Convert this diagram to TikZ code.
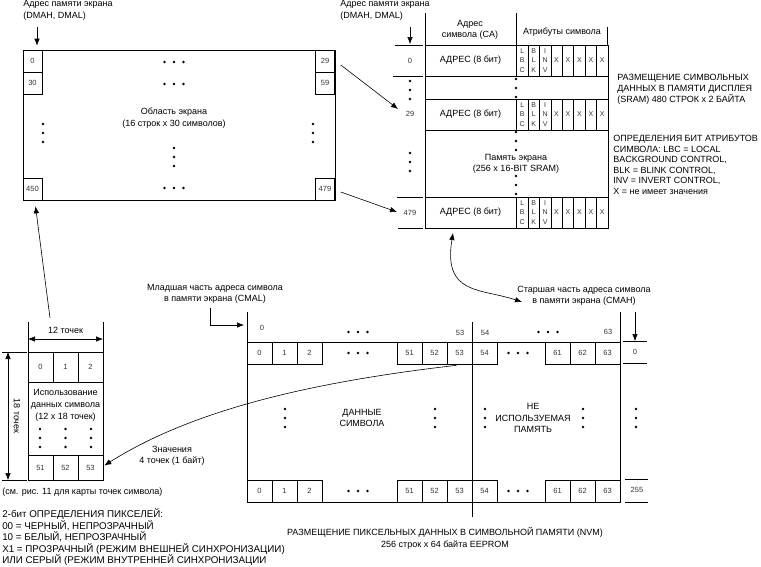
\documentclass[tikz,border=0pt]{standalone}
\usepackage{fontspec}
\setmainfont{Liberation Sans}
\usetikzlibrary{arrows.meta}

\tikzset{
	txt/.style={font=\fontsize{9}{11.5}\selectfont, align=center, inner sep=0pt},
	lefttxt/.style={txt, align=left, anchor=north west},
	num/.style={font=\fontsize{7.5}{9}\selectfont, text=black!80, inner sep=0pt},
	bits/.style={font=\fontsize{7}{9.5}\selectfont, text=black!80, align=center, inner sep=0pt},
	cell/.style={draw, num, minimum width=25pt, minimum height=22pt},
	scell/.style={cell, minimum width=19pt},
	hdots/.pic={\foreach \i in {-1,0,1} \fill (\i*9.5,0) circle (1.3pt);},
	vdots/.pic={\foreach \i in {-1,0,1} \fill (0,\i*9) circle (1.3pt);},
}

\begin{document}
\begin{tikzpicture}[x=1pt, y=-1pt, line width=0.6pt, >={Latex[length=7pt,width=5.5pt]}]
	\useasboundingbox (0,0) rectangle (761,566);
	% screen area
		\node[lefttxt] (scrTitle) at (23,0.5) {Адрес памяти экрана\\(DMAH, DMAL)};
		\draw (23,50) rectangle (335,200);
		\node[scell] (s0) at (32.5,61) {0};
		\node[scell] (s30) at (32.5,83) {30};
		\node[scell] (s450) at (32.5,189) {450};
		\node[scell] (s29) at (325,61) {29};
		\node[scell] (s59) at (325,83) {59};
		\node[scell] (s479) at (325,189) {479};
		\pic at (174,62) {hdots};
		\pic at (174,84) {hdots};
		\pic at (174,188) {hdots};
		\pic at (43,133) {vdots};
		\pic at (313,133) {vdots};
		\pic at (174,157) {vdots};
		\node[txt] (scrText) at (174,118) {Область экрана\\(16 строк x 30 символов)};
		\coordinate (scrIn) at (37,27);
		\draw[->, shorten >=4pt] (scrIn) -- (scrIn |- s0.north);
	% screen memory (SRAM)
		\node[lefttxt] (sramTitle) at (340,0.5) {Адрес памяти экрана\\(DMAH, DMAL)};
		\node[txt] (caHead) at (470,30) {Адрес\\символа (CA)};
		\node[txt] (attrHead) at (562,32) {Атрибуты символа};
		\draw (425,13) -- (425,45);
		\draw (516.5,13) -- (516.5,45);
		\draw (607.5,27) -- (607.5,45);
		\draw (425,45) rectangle (608,228);
		\foreach \y in {76,99,130,197} \draw (425,\y) -- (608,\y);
		\foreach \y/\n in {45/0,99/29,197/479} {
			\node[txt] (adr\n) at (470.5,\y+15.5) {АДРЕС (8 бит)};
			\foreach \i in {0,...,7} \draw (516.5+\i*11.44,\y) -- ++(0,31);
			\node[bits] (lbc\n) at (522.2,\y+15.5) {L\\B\\C};
			\node[bits] (blk\n) at (533.7,\y+15.5) {B\\L\\K};
			\node[bits] (inv\n) at (545.1,\y+15.5) {I\\N\\V};
			\foreach \i in {3,...,7} \node[bits] at (522.2+\i*11.44,\y+15.5) {X};
		}
		\pic at (516,88) {vdots};
		\pic at (516,141) {vdots};
		\pic at (516,185) {vdots};
		\node[txt] (sramText) at (516,164) {Память экрана\\(256 x 16-BIT SRAM)};
		% row labels
		\node[num] (r0) at (410,61) {0};
		\node[num] (r29) at (410,114) {29};
		\node[num] (r479) at (410,213) {479};
		\coordinate (sramIn) at (410,27);
		\draw[->] (sramIn) -- ([shift={(0,-17)}]r0.center);
		\draw (395,45) -- (423,45);
		\draw (393,76) -- (423,76);
		\draw (397,197) -- (423,197);
		\draw (398,228) -- (423,228);
		\pic at (410,90) {vdots};
		\pic at (410,162) {vdots};
		\node[lefttxt, font=\fontsize{9}{11}\selectfont] (sramNote) at (617,73.5) {РАЗМЕЩЕНИЕ СИМВОЛЬНЫХ\\ДАННЫХ В ПАМЯТИ ДИСПЛЕЯ\\(SRAM) 480 СТРОК x 2 БАЙТА};
		\node[lefttxt, font=\fontsize{9}{10.5}\selectfont] (attrNote) at (613,135) {ОПРЕДЕЛЕНИЯ БИТ АТРИБУТОВ\\СИМВОЛА: LBC = LOCAL\\BACKGROUND CONTROL,\\BLK = BLINK CONTROL,\\INV = INVERT CONTROL,\\X = не имеет значения};
	% screen to SRAM
		\draw[->] ([shift={(6,4)}]s29.east) -- ([shift={(-12,-5)}]r29.center);
		\draw[->] ([shift={(6,3)}]s479.east) -- ([shift={(-13,-1)}]r479.center);
	% high part of address
		\node[txt] (cmahText) at (584,296) {Старшая часть адреса символа\\в памяти экрана (CMAH)};
		\coordinate (sramBot) at (453,233);
		\coordinate (cmahTip) at (522,302);
		\draw[<->] (sramBot) .. controls (443,295) and (480,288) .. (cmahTip);
	% character memory (NVM)
		\node[txt] (cmalText) at (215,294) {Младшая часть адреса символа\\в памяти экрана (CMAL)};
		\coordinate (cmalIn) at (210,308);
		\coordinate (cmalTip) at (244,325);
		\draw[->] (cmalIn) |- (cmalTip);
		\draw (247,342) rectangle (620,502);
		\draw (247,312) -- (247,342);
		\draw (620,312) -- (620,342);
		\draw (472,322) -- (472,517);
		\foreach \x/\n in {259.5/0,284.5/1,309.5/2,409.5/51,434.5/52,459.5/53,484.5/54,557.5/61,582.5/62,607.5/63} {
			\node[cell] (t\n) at (\x,353) {\n};
			\node[cell] (b\n) at (\x,491) {\n};
		}
		\node[num] (a0) at (262,328) {0};
		\node[num] (a53) at (460,333) {53};
		\node[num] (a54) at (485,333) {54};
		\node[num] (a63) at (608,332) {63};
		\pic at (358,332) {hdots};
		\pic at (548,332) {hdots};
		\foreach \y in {353,491} {
			\pic at (358,\y) {hdots};
			\pic at (518,\y) {hdots};
		}
		\foreach \x in {285,435,485,583,636} \pic at (\x,418) {vdots};
		\node[txt] (charData) at (362,418) {ДАННЫЕ\\СИМВОЛА};
		\node[txt] (unused) at (533,418) {НЕ\\ИСПОЛЬЗУЕМАЯ\\ПАМЯТЬ};
		\node[num] (n0) at (635,352) {0};
		\coordinate (nIn) at (635,312);
		\draw[->] (nIn) -- ([shift={(0,-11)}]n0.center);
		\draw (623,341) -- (647,341);
		\draw (623,363) -- (647,363);
		\node[num] (n255) at (637,490) {255};
		\draw (625,479) -- (648,479);
		\draw (625,502) -- (648,502);
		\node[txt] (nvmTitle) at (445,538.5) {РАЗМЕЩЕНИЕ ПИКСЕЛЬНЫХ ДАННЫХ В СИМВОЛЬНОЙ ПАМЯТИ (NVM)\\256 строк x 64 байта EEPROM};
	% character pixels
		\draw (28,352) rectangle (103,480);
		\foreach \x/\n in {40.5/0,65.5/1,90.5/2} \node[cell, minimum height=30pt] (p\n) at (\x,367) {\n};
		\foreach \x/\n in {40.5/51,65.5/52,90.5/53} \node[cell, minimum height=25pt] (p\n) at (\x,467.5) {\n};
		\node[txt, font=\fontsize{9}{12}\selectfont] (useText) at (65.5,405) {Использование\\данных символа\\(12 x 18 точек)};
		\foreach \x in {40,65.5,91} \pic at (\x,438) {vdots};
		\draw (28,322) -- (28,352);
		\draw (103,322) -- (103,352);
		\draw[<->] (28,339) -- (103,339);
		\node[txt] (w12) at (65.5,330) {12 точек};
		\draw (2,352) -- (27,352);
		\draw (2,480) -- (27,480);
		\draw[<->] (8,352) -- (8,480);
		\node[txt, rotate=-90] (h18) at (17,416) {18 точек};
		\coordinate (charUp) at (50,318);
		\draw[->] (charUp) -- ([shift={(3,6)}]s450.south);
		\draw[->] ([shift={(-3,1)}]t53.south) .. controls (330,380) and (200,405) .. ([shift={(1,-2)}]p53.east);
		\node[txt] (valText) at (172,456) {Значения\\4 точек (1 байт)};
		\node[txt, anchor=west] (seeFig) at (2,492) {(см. рис. 11 для карты точек символа)};
		\node[lefttxt, font=\fontsize{9.8}{11.5}\selectfont] (pixNote) at (2,508.5) {2-бит ОПРЕДЕЛЕНИЯ ПИКСЕЛЕЙ:\\00 = ЧЕРНЫЙ, НЕПРОЗРАЧНЫЙ\\10 = БЕЛЫЙ, НЕПРОЗРАЧНЫЙ\\X1 = ПРОЗРАЧНЫЙ (РЕЖИМ ВНЕШНЕЙ СИНХРОНИЗАЦИИ)\\ИЛИ СЕРЫЙ (РЕЖИМ ВНУТРЕННЕЙ СИНХРОНИЗАЦИИ};
\end{tikzpicture}
\end{document}
